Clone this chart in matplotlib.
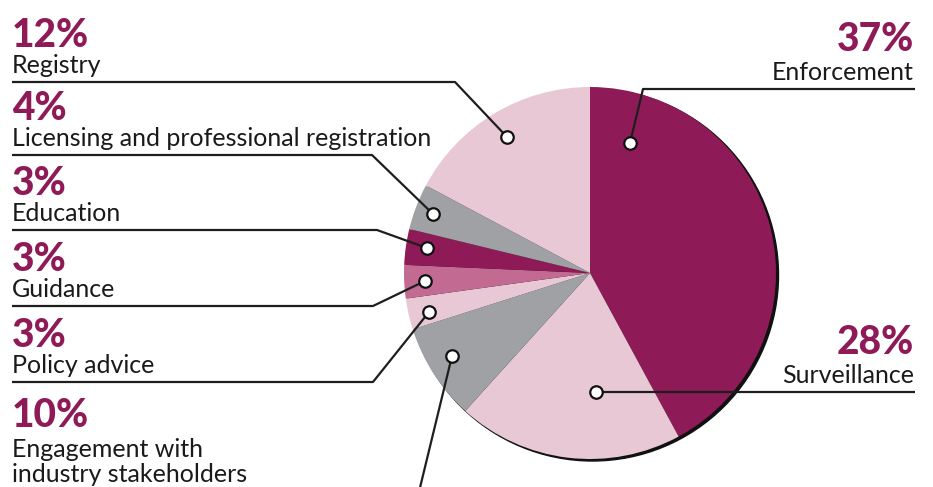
import matplotlib.pyplot as plt
from matplotlib.patches import Circle

# categories in drawing order (clockwise from 12 o'clock)
categories = ['Enforcement', 'Surveillance', 'Engagement with\nindustry stakeholders',
              'Policy advice', 'Guidance', 'Education',
              'Licensing and professional registration', 'Registry']
# percentages printed on the labels
label_pct = [37, 28, 10, 3, 3, 3, 4, 12]
# slice sizes as drawn in the graphic (degrees of arc / 3.6)
slice_share = [42.1, 19.6, 8.4, 2.7, 2.9, 3.1, 4.0, 17.2]

DARK = '#8e1b57'
PINK = '#e9c8d5'
GREY = '#9fa1a4'
MID = '#c26a91'
colors = [DARK, PINK, GREY, PINK, MID, DARK, GREY, PINK]

plt.rcParams['font.family'] = ['Lato', 'DejaVu Sans']

fig = plt.figure(figsize=(9.33, 4.87), dpi=100)
ax = fig.add_axes([0, 0, 1, 1])

cx, cy, r = 590, 273, 186

# thin dark shadow on the lower right edge
ax.add_patch(Circle((cx + 2.5, cy + 2), r, color='#111111', zorder=1))
# y axis is inverted below, so counterclock=True draws clockwise on screen
ax.pie(slice_share, colors=colors, startangle=-90, counterclock=True,
       center=(cx, cy), radius=r, wedgeprops=dict(linewidth=0, zorder=2),
       frame=True)

# label layout: (side, line y, elbow x, dot x, dot y)
layout = {
    'Enforcement': ('R', 89, 643, 630, 143),
    'Surveillance': ('R', 392, 596, 596, 392),
    'Registry': ('L', 82, 455, 507, 137),
    'Licensing and professional registration': ('L', 155, 372, 433, 214),
    'Education': ('L', 230, 377, 427, 248),
    'Guidance': ('L', 306, 373, 425, 281),
    'Policy advice': ('L', 382, 373, 429, 312),
}

line_kw = dict(color='#1e1e1e', lw=1.6, zorder=3, solid_capstyle='butt')
dot_kw = dict(marker='o', ms=9, mfc='white', mec='#111111', mew=1.6, zorder=5)
pct_kw = dict(va='baseline', fontsize=28, fontweight='black', color=DARK)
lab_kw = dict(va='baseline', fontsize=18, color='#1a1a1a')

for cat, pct in zip(categories, label_pct):
    if cat in layout:
        side, ly, ex, dx, dy = layout[cat]
        if side == 'L':
            ax.plot([12, ex, dx], [ly, ly, dy], **line_kw)
            tx, ha = 12, 'left'
        else:
            ax.plot([915, ex, dx], [ly, ly, dy], **line_kw)
            tx, ha = 914, 'right'
        ax.text(tx, ly - 38 if side == 'R' else ly - 35, f'{pct}%', ha=ha, **pct_kw)
        ax.text(tx, ly - 9, cat, ha=ha, **lab_kw)
        ax.plot([dx], [dy], **dot_kw)
    else:
        # engagement label sits at the bottom, its leader runs off the page
        ax.text(12, 427, f'{pct}%', ha='left', **pct_kw)
        for i, part in enumerate(cat.split('\n')):
            ax.text(12, 457 + 25 * i, part, ha='left', **lab_kw)
        ax.plot([452, 417], [356, 500], **line_kw)
        ax.plot([452], [356], **dot_kw)

ax.set_xlim(0, 933)
ax.set_ylim(487, 0)
ax.set_aspect('equal')
ax.axis('off')

fig.savefig('out.png', dpi=100)
